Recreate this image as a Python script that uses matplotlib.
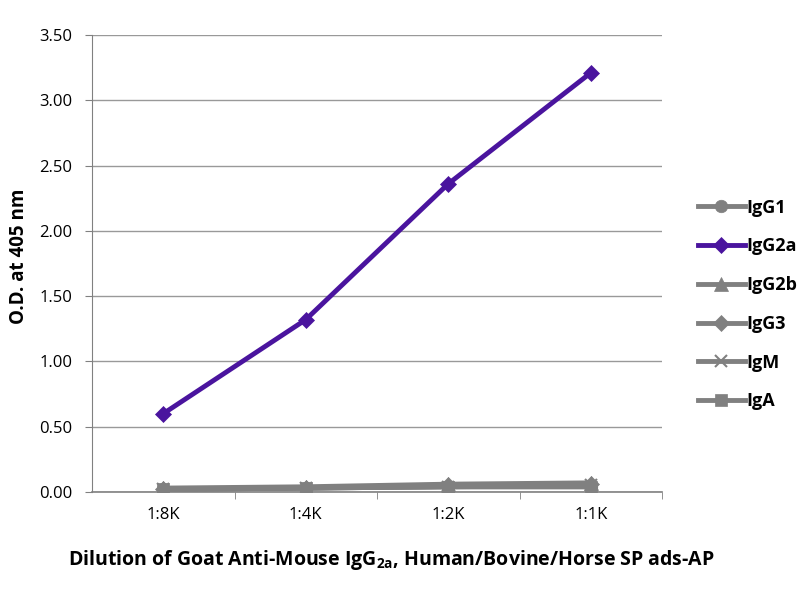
import matplotlib
matplotlib.use("Agg")
import matplotlib.pyplot as plt

categories = ["1:8K", "1:4K", "1:2K", "1:1K"]
series_names = ["IgG1", "IgG2a", "IgG2b", "IgG3", "IgM", "IgA"]
igg1 = [0.02, 0.03, 0.04, 0.04]
igg2a = [0.60, 1.32, 2.36, 3.21]
igg2b = [0.03, 0.04, 0.06, 0.07]
igg3 = [0.02, 0.03, 0.05, 0.06]
igm = [0.02, 0.03, 0.04, 0.05]
iga = [0.02, 0.03, 0.04, 0.04]
yticks = [0.0, 0.5, 1.0, 1.5, 2.0, 2.5, 3.0, 3.5]

fam = "Open Sans"

fig = plt.figure(figsize=(8, 6), dpi=100)
ax = fig.add_axes([0.115, 0.18, 0.7125, 0.7617])

gray = "#808080"
purple = "#4a149e"
series = [
    (igg1, "o", gray, 9),
    (igg2a, "D", purple, 8),
    (igg2b, "^", gray, 10),
    (igg3, "D", gray, 8),
    (igm, "x", gray, 9),
    (iga, "s", gray, 8),
]
x = list(range(len(categories)))
handles = []
for name, (vals, m, c, ms) in zip(series_names, series):
    h, = ax.plot(x, vals, color=c, marker=m, markersize=ms, linewidth=3.5,
                 markeredgecolor=c, markeredgewidth=1.5 if m == "x" else 0.5,
                 label=name, zorder=3 if c == purple else 2)
    handles.append(h)

ax.set_xlim(-0.5, len(categories) - 0.5)
ax.set_ylim(0, 3.5)
ax.set_yticks(yticks)
ax.set_yticklabels([f"{v:.2f}" for v in yticks], fontsize=12, family=fam)
ax.set_xticks(x)
ax.set_xticklabels(categories, fontsize=12, family=fam)
ax.tick_params(axis="x", length=0, pad=11)
ax.tick_params(axis="y", length=5, pad=9, color=gray)
ax.set_xticks([i + 0.5 for i in range(len(categories))], minor=True)
ax.tick_params(axis="x", which="minor", length=5, direction="out", color=gray)
ax.grid(axis="y", color="#999999", linewidth=1)
ax.set_axisbelow(True)
for s in ["top", "right"]:
    ax.spines[s].set_visible(False)
ax.spines["left"].set_color(gray)
ax.spines["bottom"].set_color(gray)
ax.spines["bottom"].set_linewidth(1.2)

ax.set_ylabel("O.D. at 405 nm", fontsize=13.5, fontweight="bold", family=fam)
ax.yaxis.set_label_coords(-0.11, 0.516)
ax.set_xlabel(r"Dilution of Goat Anti-Mouse IgG$_{\mathregular{2a}}$, Human/Bovine/Horse SP ads-AP",
              fontsize=14, fontweight="bold", family=fam)
ax.xaxis.set_label_coords(0.5246, -0.122)

leg = fig.legend(handles=handles, loc="center left", bbox_to_anchor=(0.852, 0.4925),
                 frameon=False, prop={"family": fam, "weight": "bold", "size": 13},
                 labelspacing=1.15, handlelength=2.6, handletextpad=0.1)
fig.savefig("out.png", dpi=100)
